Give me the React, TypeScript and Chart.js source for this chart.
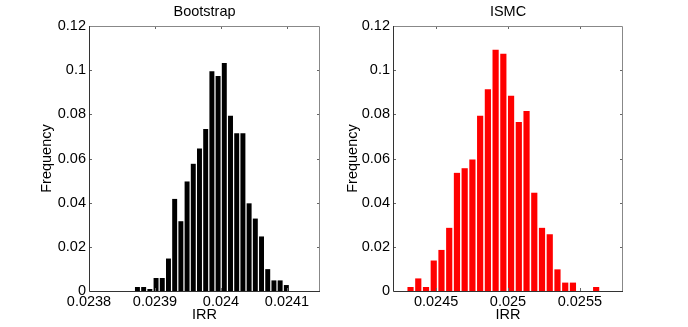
import React, { useEffect, useRef } from "react";
import { Chart, registerables } from "chart.js";

Chart.register(...registerables);

// ---------- data ----------
const bootstrapBins = [
  0.0238734, 0.0238828, 0.0238922, 0.0239016, 0.023911, 0.0239204, 0.0239298,
  0.0239392, 0.0239486, 0.023958, 0.0239674, 0.0239768, 0.0239862, 0.0239956,
  0.024005, 0.0240144, 0.0240238, 0.0240332, 0.0240426, 0.024052, 0.0240614,
  0.0240708, 0.0240802, 0.0240896, 0.024099,
];
const bootstrapFreq = [
  0.0018, 0.0018, 0.0009, 0.0059, 0.0059, 0.0147, 0.0417, 0.0316, 0.0496,
  0.0576, 0.0645, 0.0734, 0.0995, 0.0974, 0.1033, 0.0794, 0.0714, 0.0714,
  0.0397, 0.0328, 0.0247, 0.0099, 0.0048, 0.0048, 0.0027,
];
const ismcBins = [
  0.024322, 0.0243758, 0.0244296, 0.0244834, 0.0245372, 0.024591, 0.0246448,
  0.0246986, 0.0247524, 0.0248062, 0.02486, 0.0249138, 0.0249676, 0.0250214,
  0.0250752, 0.025129, 0.0251828, 0.0252366, 0.0252904, 0.0253442, 0.025398,
  0.0254518, 0.0255056, 0.0255594, 0.0256132,
];
const ismcFreq = [
  0.0018, 0.0057, 0.0018, 0.0138, 0.0186, 0.0286, 0.0535, 0.0556, 0.0595,
  0.0794, 0.0914, 0.1092, 0.1074, 0.0884, 0.0765, 0.0815, 0.0445, 0.0286,
  0.0257, 0.0098, 0.0038, 0.0038, 0, 0, 0.0018,
];
const bootstrapXLim = [0.0238, 0.02415];
const ismcXLim = [0.0242, 0.0258];
const bootstrapXTicks = [0.0238, 0.0239, 0.024, 0.0241];
const bootstrapXTickLabels = ["0.0238", "0.0239", "0.024", "0.0241"];
const ismcXTicks = [0.0245, 0.025, 0.0255];
const ismcXTickLabels = ["0.0245", "0.025", "0.0255"];
const yTicks = [0, 0.02, 0.04, 0.06, 0.08, 0.1, 0.12];
const yTickLabels = ["0", "0.02", "0.04", "0.06", "0.08", "0.1", "0.12"];

const FONT_FAMILY = '"Liberation Sans", Arial, Helvetica, sans-serif';
const FONT_SIZE = 14.5;

const framePlugin = {
  id: "matlabFrame",
  afterDatasetsDraw(chart: any, _args: any, opts: any) {
    const { ctx, chartArea: a, scales } = chart;
    const L = 3;
    ctx.save();
    ctx.lineWidth = 1;
    ctx.strokeStyle = "#666";
    ctx.beginPath();
    scales.x.ticks.forEach((t: any) => {
      const px = Math.round(scales.x.getPixelForValue(t.value)) + 0.5;
      if (px <= a.left + 1 || px >= a.right - 1) return;
      ctx.moveTo(px, a.bottom);
      ctx.lineTo(px, a.bottom - L);
      ctx.moveTo(px, a.top);
      ctx.lineTo(px, a.top + L);
    });
    scales.y.ticks.forEach((t: any) => {
      const py = Math.round(scales.y.getPixelForValue(t.value)) + 0.5;
      if (py <= a.top + 1 || py >= a.bottom - 1) return;
      ctx.moveTo(a.left, py);
      ctx.lineTo(a.left + L, py);
      ctx.moveTo(a.right, py);
      ctx.lineTo(a.right - L, py);
    });
    ctx.stroke();
    // frame
    ctx.strokeStyle = "#888";
    ctx.beginPath();
    ctx.moveTo(a.left, a.top + 0.5);
    ctx.lineTo(a.right - 0.5, a.top + 0.5);
    ctx.lineTo(a.right - 0.5, a.bottom);
    ctx.stroke();
    ctx.strokeStyle = "#333";
    ctx.beginPath();
    ctx.moveTo(a.left + 0.5, a.top);
    ctx.lineTo(a.left + 0.5, a.bottom + 0.5);
    ctx.lineTo(a.right, a.bottom + 0.5);
    ctx.stroke();
    // title
    ctx.font = `${FONT_SIZE}px ${FONT_FAMILY}`;
    ctx.fillStyle = "#000";
    ctx.textAlign = "center";
    ctx.textBaseline = "middle";
    ctx.fillText(opts.text, (a.left + a.right) / 2, 12);
    ctx.restore();
  },
};

function makeConfig(
  title: string,
  bins: number[],
  freq: number[],
  color: string,
  xLim: number[],
  xTicks: number[],
  xTickLabels: string[],
  yAxisWidth: number,
  padRight: number,
  yTitlePad: number
): any {
  return {
    type: "bar",
    data: {
      datasets: [
        {
          data: bins.map((b, i) => ({ x: b, y: freq[i] })),
          backgroundColor: color,
          borderWidth: 0,
          barPercentage: 0.8,
          categoryPercentage: 1,
        },
      ],
    },
    plugins: [framePlugin],
    options: {
      responsive: false,
      animation: false,
      layout: { padding: { top: 26, right: padRight, left: 0, bottom: 0 } },
      plugins: {
        legend: { display: false },
        tooltip: { enabled: false },
        title: { display: false },
        matlabFrame: { text: title },
      },
      scales: {
        x: {
          type: "linear",
          offset: false,
          min: xLim[0],
          max: xLim[1],
          grid: { display: false, drawTicks: false },
          border: { display: false },
          afterBuildTicks: (s: any) => {
            s.ticks = xTicks.map((v) => ({ value: v }));
          },
          afterFit: (s: any) => {
            s.height = 36;
          },
          ticks: {
            autoSkip: false,
            maxRotation: 0,
            minRotation: 0,
            padding: 2,
            color: "#000",
            font: { size: FONT_SIZE, family: FONT_FAMILY },
            callback: (_v: any, i: number) => xTickLabels[i],
          },
          title: {
            display: true,
            text: "IRR",
            color: "#000",
            font: { size: FONT_SIZE, family: FONT_FAMILY },
            padding: { top: 0, bottom: 3.3 },
          },
        },
        y: {
          type: "linear",
          min: 0,
          max: 0.12,
          grid: { display: false, drawTicks: false },
          border: { display: false },
          afterBuildTicks: (s: any) => {
            s.ticks = yTicks.map((v) => ({ value: v }));
          },
          afterFit: (s: any) => {
            s.width = yAxisWidth;
          },
          ticks: {
            padding: 3,
            color: "#000",
            font: { size: FONT_SIZE, family: FONT_FAMILY },
            callback: (_v: any, i: number) => yTickLabels[i],
          },
          title: {
            display: true,
            text: "Frequency",
            color: "#000",
            font: { size: FONT_SIZE, family: FONT_FAMILY },
            padding: { top: yTitlePad, bottom: 0 },
          },
        },
      },
    },
  };
}

export default function App() {
  const leftRef = useRef<HTMLCanvasElement>(null);
  const rightRef = useRef<HTMLCanvasElement>(null);

  useEffect(() => {
    const c1 = new Chart(
      leftRef.current as HTMLCanvasElement,
      makeConfig(
        "Bootstrap",
        bootstrapBins,
        bootstrapFreq,
        "#000000",
        bootstrapXLim,
        bootstrapXTicks,
        bootstrapXTickLabels,
        89,
        24,
        38.3
      )
    );
    const c2 = new Chart(
      rightRef.current as HTMLCanvasElement,
      makeConfig(
        "ISMC",
        ismcBins,
        ismcFreq,
        "#ff0000",
        ismcXLim,
        ismcXTicks,
        ismcXTickLabels,
        49,
        65,
        0
      )
    );
    return () => {
      c1.destroy();
      c2.destroy();
    };
  }, []);

  return (
    <div
      style={{
        position: "absolute",
        left: 0,
        top: 0,
        width: 688,
        height: 327,
        background: "#fff",
      }}
    >
      <canvas
        ref={leftRef}
        width={344}
        height={327}
        style={{ position: "absolute", left: 0, top: 0, width: 344, height: 327 }}
      />
      <canvas
        ref={rightRef}
        width={344}
        height={327}
        style={{ position: "absolute", left: 344, top: 0, width: 344, height: 327 }}
      />
    </div>
  );
}
